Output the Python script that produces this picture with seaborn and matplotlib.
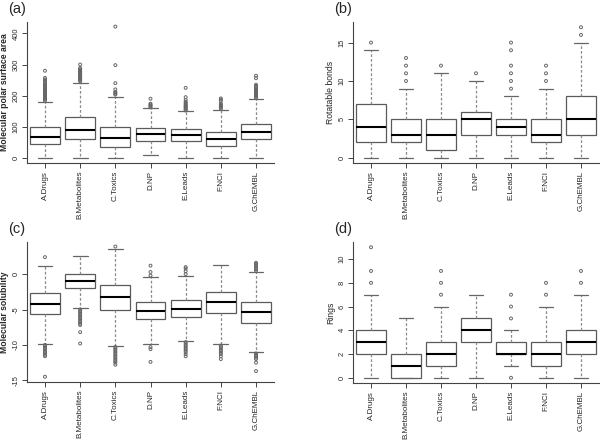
import numpy as np
import pandas as pd
import matplotlib
matplotlib.use("Agg")
import matplotlib.pyplot as plt
import seaborn as sns

groups = ["A.Drugs", "B.Metabolites", "C.Toxics", "D.NP", "E.Leads", "F.NCI", "G.ChEMBL"]

# (a) Molecular polar surface area: five-number summaries per group
psa_low = [0, 0, 0, 8, 0, 0, 0]
psa_q1 = [45, 59, 35, 55, 55, 39, 59]
psa_med = [68, 90, 64, 75, 73, 62, 84]
psa_q3 = [100, 132, 100, 97, 93, 84, 110]
psa_high = [181, 242, 196, 159, 149, 155, 190]
psa_out = [
    [184, 187, 190, 193, 196, 199, 202, 205, 208, 211, 214, 217, 220, 223, 226, 229, 232, 236, 240, 244, 248, 252, 257, 280],
    [246, 249, 252, 255, 258, 261, 264, 267, 270, 273, 276, 279, 282, 285, 289, 300],
    [203, 206, 209, 212, 220, 240, 298, 422],
    [162, 165, 168, 171, 174, 190],
    [152, 155, 158, 161, 164, 167, 170, 173, 177, 180, 186, 195, 225],
    [158, 161, 164, 167, 170, 174, 182, 187, 191],
    [193, 196, 199, 202, 205, 208, 211, 214, 217, 220, 224, 228, 232, 235, 256, 264],
]

# (b) Rotatable bonds
rot_low = [0, 0, 0, 0, 0, 0, 0]
rot_q1 = [2, 2, 1, 3, 3, 2, 3]
rot_med = [4, 3, 3, 5, 4, 3, 5]
rot_q3 = [7, 5, 5, 6, 5, 5, 8]
rot_high = [14, 9, 11, 10, 8, 9, 15]
rot_out = [
    [15],
    [10, 11, 12, 13],
    [12],
    [11],
    [9, 10, 11, 12, 14, 15],
    [10, 11, 12],
    [16, 17],
]

# (c) Molecular solubility
sol_low = [-9.85, -4.8, -10.1, -9.85, -9.45, -9.9, -11.0]
sol_q1 = [-5.65, -1.95, -5.1, -6.3, -6.0, -5.5, -6.85]
sol_med = [-4.2, -1.0, -3.25, -5.2, -4.9, -3.95, -5.35]
sol_q3 = [-2.7, -0.05, -1.6, -4.0, -3.7, -2.55, -4.0]
sol_high = [1.1, 2.5, 3.5, -0.45, -0.2, 1.35, 0.3]
sol_out = [
    [2.4, -10.0, -10.2, -10.4, -10.6, -10.8, -11.0, -11.2, -11.4, -11.6, -14.5],
    [-5.0, -5.2, -5.4, -5.6, -5.8, -6.0, -6.2, -6.4, -6.6, -6.8, -7.0, -7.2, -8.2, -9.8],
    [3.9, -10.3, -10.5, -10.7, -10.9, -11.1, -11.3, -11.5, -11.7, -11.9, -12.1, -12.3, -12.5, -12.8],
    [-0.2, 0.3, 1.2, -10.3, -10.6, -12.4],
    [0.0, 0.4, 0.8, 1.0, -9.6, -9.8, -10.0, -10.2, -10.4, -10.6, -10.8, -11.0, -11.3, -11.6],
    [-10.1, -10.3, -10.5, -10.7, -10.9, -11.1, -11.3, -11.6, -12.0],
    [0.5, 0.7, 0.9, 1.1, 1.3, 1.5, 1.6, -11.2, -11.4, -11.6, -11.8, -12.0, -12.5, -13.7],
]

# (d) Rings
ring_low = [0, 0, 0, 0, 1, 0, 0]
ring_q1 = [2, 0, 1, 3, 2, 1, 2]
ring_med = [3, 1, 2, 4, 2, 2, 3]
ring_q3 = [4, 2, 3, 5, 3, 3, 4]
ring_high = [7, 5, 6, 7, 4, 6, 7]
ring_out = [
    [8, 9, 11],
    [],
    [7, 8, 9],
    [],
    [0, 5, 6, 7],
    [7, 8],
    [8, 9],
]

panels = [
    ("(a)", "Molecular polar surface area", psa_low, psa_q1, psa_med, psa_q3, psa_high, psa_out,
     [0, 100, 200, 300, 400], (-16.8, 436.8), "bold"),
    ("(b)", "Rotatable bonds", rot_low, rot_q1, rot_med, rot_q3, rot_high, rot_out,
     [0, 5, 10, 15], (-0.68, 17.68), "normal"),
    ("(c)", "Molecular solubility", sol_low, sol_q1, sol_med, sol_q3, sol_high, sol_out,
     [-15, -10, -5, 0], (-15.24, 4.54), "bold"),
    ("(d)", "Rings", ring_low, ring_q1, ring_med, ring_q3, ring_high, ring_out,
     [0, 2, 4, 6, 8, 10], (-0.44, 11.44), "normal"),
]

sns.set_style("ticks")
plt.rcParams["font.family"] = ["Liberation Sans", "DejaVu Sans"]

W, H = 600, 441
fig = plt.figure(figsize=(6.0, 4.41), dpi=100)

# axes rectangles in pixel coordinates (left, top, right, bottom)
rects = [(27.4, 22, 273.6, 163), (353.5, 22, 598.5, 163),
         (27.4, 242, 273.6, 382), (353.5, 242, 598.5, 383)]

box_edge = "#5a5a5a"
whisk_col = "#8a8a8a"
out_col = "#666666"

for (lab, ylab, lo, q1, md, q3, hi, outs, yt, ylim, weight), (l, t, r, b) in zip(panels, rects):
    ax = fig.add_axes([l / W, (H - b) / H, (r - l) / W, (b - t) / H])
    rows = []
    for g, a1, a2, a3, a4, a5 in zip(groups, lo, q1, md, q3, hi):
        for v in (a1, a2, a3, a4, a5):
            rows.append((g, v))
    df = pd.DataFrame(rows, columns=["group", "value"])
    orows = [(g, v) for g, vals in zip(groups, outs) for v in vals]
    dfo = pd.DataFrame(orows, columns=["group", "value"])

    sns.boxplot(data=df, x="group", y="value", order=groups, whis=(0, 100),
                width=0.85, color="white", linecolor=box_edge, linewidth=0.9,
                showfliers=False, ax=ax,
                medianprops=dict(color="black", linewidth=1.5),
                whiskerprops=dict(color=whisk_col, linestyle=(0, (2.2, 1.6)), linewidth=0.9),
                capprops=dict(color="#666666", linewidth=0.9))
    if len(dfo):
        sns.stripplot(data=dfo, x="group", y="value", order=groups, jitter=False,
                      color=out_col, facecolors="none", edgecolor=out_col,
                      linewidth=0.7, size=2.1, ax=ax, zorder=4)

    ax.set_xlim(-0.5, 6.5)
    ax.set_ylim(*ylim)
    ax.set_yticks(yt)
    ax.set_yticklabels([str(v) for v in yt], rotation=90, va="center", fontsize=5.4)
    ax.set_xticks(range(len(groups)))
    ax.set_xticklabels(groups, rotation=90, fontsize=5.8)
    ax.set_xlabel("")
    ax.set_ylabel(ylab, fontsize=6.2, fontweight=weight, labelpad=2.5)
    ax.tick_params(length=3.5, width=0.7, color="#444444", pad=2)
    sns.despine(ax=ax)
    for s in ("left", "bottom"):
        ax.spines[s].set_color("#444444")
        ax.spines[s].set_linewidth(0.8)
    fig.text((l - 19.5) / W, 1 - 9 / H if t < 100 else 1 - 229 / H, lab,
             fontsize=10.5, ha="left", va="center")

fig.savefig("out.png", dpi=100)
